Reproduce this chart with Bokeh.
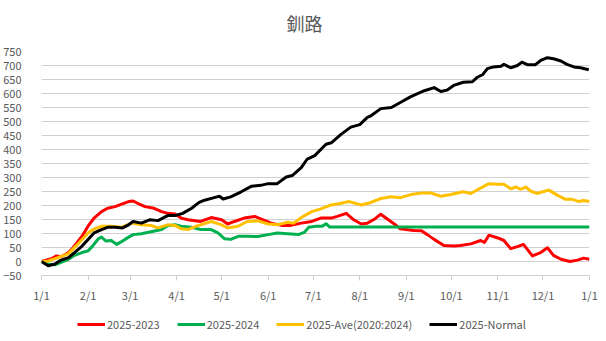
from bokeh.plotting import figure
from bokeh.models import (Range1d, FixedTicker, Legend, LegendItem, Label)
from bokeh.layouts import column
from bokeh.embed import file_html
from bokeh.resources import INLINE
from datetime import date

# ---------------- data (day = days since 1/1) ----------------
title_text = "釧路"
series_names = ["2025-2023", "2025-2024", "2025-Ave(2020:2024)", "2025-Normal"]
series_colors = ["#ff0000", "#00b050", "#ffc000", "#000000"]

red_day = [0, 6.6, 10, 13, 18, 21, 27, 31, 35, 40, 44, 49, 53, 58, 61, 64, 69, 75, 80, 84, 89, 93,
           97.5, 106, 113, 120, 124, 128.5, 135, 142, 146, 153, 160, 166, 173, 180, 186, 193, 197,
           203, 208, 213, 217, 222, 226, 231, 235, 239, 248, 253, 257, 261.5, 268, 275, 279, 286,
           292.5, 295, 298, 304, 308, 312.5, 317, 321, 327, 332.5, 337, 341, 346, 352, 357, 361, 365]
red_val = [0, 10, 20, 17, 32, 49, 90, 126, 155, 178, 190, 196, 204, 214, 216, 208, 196, 190, 178, 172,
           170, 155, 149, 143, 157, 149, 134, 143, 155, 161, 152, 137, 129, 129, 137, 143, 155, 155,
           161, 172, 149, 134, 137, 152, 169, 149, 134, 117, 111, 110, 96, 79, 57, 55, 57, 63, 75, 68,
           94, 84, 75, 46, 53, 61, 20, 32, 49, 22, 8, 0, 5, 12, 8]

green_day = [0, 4.5, 9, 13, 18, 22, 27, 31, 34, 38, 40, 43, 46.5, 50, 53, 58, 61, 66.5, 73, 80, 84,
             89, 93, 100, 106, 113, 117.5, 122, 126, 131, 137, 144, 151, 157, 164, 171, 175, 178,
             183, 187, 189.5, 192, 365]
green_val = [0, -9, -12, -3, 8, 22, 32, 38, 55, 82, 87, 73, 75, 61, 70, 87, 96, 99, 106, 114, 128,
             131, 126, 122, 114, 114, 102, 81, 79, 90, 90, 89, 96, 102, 99, 96, 104, 122, 126, 126,
             135, 123, 123]

yellow_day = [0, 4.5, 11, 18, 24, 31, 35, 40, 46.5, 53, 60, 66.5, 73, 77.6, 84, 89, 93, 97.5, 104,
              106, 113, 120, 124, 131, 137, 144, 151, 157, 164, 168, 173, 180, 186, 193, 199.5, 205,
              213, 219, 226, 233, 239, 246, 253, 259, 266, 272.6, 281, 286, 291, 298, 304, 308,
              312.5, 316, 319, 322.5, 326, 330, 335, 338, 343.5, 349, 353.5, 358, 361, 365]
yellow_val = [0, 2, 14, 28, 61, 102, 116, 126, 126, 122, 137, 131, 129, 120, 131, 129, 117, 114, 128,
              131, 143, 131, 120, 126, 143, 145, 134, 131, 140, 137, 157, 178, 188, 202, 208, 214,
              202, 210, 225, 231, 228, 239, 245, 245, 233, 239, 249, 243, 258, 278, 276, 276, 260,
              266, 258, 266, 251, 243, 251, 255, 237, 222, 222, 214, 218, 214]

black_day = [0, 4.5, 9, 13, 18, 22, 27, 31, 35, 40, 44, 49, 54, 58, 61, 66.5, 72, 77.6, 84, 89, 94,
             100, 105, 108.6, 115, 118.5, 121, 126, 133, 140, 146, 151, 157, 163, 167, 173, 177,
             182, 189.5, 193, 199.5, 206, 212, 217, 219, 226, 233, 239, 246, 255, 261.5, 266, 270,
             275, 281, 287, 290, 294, 297, 301, 306, 308, 312.5, 317, 320, 323.6, 329, 332.5, 337,
             341, 346, 350, 354.6, 359, 364.5]
black_val = [0, -15, -9, 5, 14, 32, 55, 79, 102, 114, 122, 122, 120, 131, 143, 137, 149, 146, 164,
             164, 172, 190, 211, 219, 228, 233, 223, 231, 249, 269, 272, 278, 278, 302, 307, 335,
             366, 378, 419, 424, 454, 480, 489, 515, 519, 546, 550, 568, 589, 610, 621, 607, 612,
             630, 640, 642, 657, 668, 689, 695, 697, 704, 692, 700, 712, 703, 703, 718, 728, 724,
             716, 704, 695, 692, 685]

y_ticks = list(range(-50, 751, 50))
month_labels = ["1/1", "2/1", "3/1", "4/1", "5/1", "6/1", "7/1", "8/1", "9/1", "10/1", "11/1", "12/1", "1/1"]

# ---------------- figure ----------------
start = date(2025, 1, 1)
month_days = [(date(2025, m, 1) - start).days for m in range(1, 13)] + [(date(2026, 1, 1) - start).days]

FONT = "Noto Sans CJK JP"
GRID = "#d0d0d0"
TXT = "#595959"
W = 606
FRAME_LEFT = 40

# title strip (its frame is aligned with the main plot's frame by the column layout)
tt = figure(width=W, height=40, output_backend="svg", toolbar_location=None,
            x_range=Range1d(0, 1), y_range=Range1d(0, 1), min_border=0)
tt.axis.visible = False
tt.grid.visible = False
tt.outline_line_color = None
tt.border_fill_color = "white"
tt.add_layout(Label(x=W / 2 - FRAME_LEFT, y=18, x_units="screen", y_units="screen", text=title_text,
                    text_align="center", text_baseline="middle", text_font=FONT,
                    text_font_size="18px", text_color=TXT))

# main plot
p = figure(width=W, height=265, output_backend="svg", toolbar_location=None,
           x_range=Range1d(0, 365), y_range=Range1d(-50, 750),
           min_border_left=FRAME_LEFT, min_border_right=17, min_border_top=11, min_border_bottom=26)
p.outline_line_color = None
p.background_fill_color = "white"
p.border_fill_color = "white"

p.xgrid.grid_line_color = None
p.ygrid.grid_line_color = GRID
p.ygrid.grid_line_width = 1
p.ygrid.grid_line_alpha = 1.0

yt = FixedTicker(ticks=y_ticks)
p.yaxis.ticker = yt
p.ygrid.ticker = yt
p.yaxis.axis_line_color = None
p.yaxis.major_tick_line_color = None
p.yaxis.minor_tick_line_color = None
p.yaxis.major_label_standoff = 14
p.yaxis.major_label_text_font = FONT
p.yaxis.major_label_text_font_size = "11px"
p.yaxis.major_label_text_color = TXT

p.xaxis.ticker = FixedTicker(ticks=month_days)
p.xaxis.major_label_overrides = {d: lab for d, lab in zip(month_days, month_labels)}
p.xaxis.axis_line_color = GRID
p.xaxis.major_tick_line_color = GRID
p.xaxis.major_tick_out = 5
p.xaxis.major_tick_in = 0
p.xaxis.minor_tick_line_color = None
p.xaxis.major_label_standoff = 6
p.xaxis.major_label_text_font = FONT
p.xaxis.major_label_text_font_size = "11px"
p.xaxis.major_label_text_color = TXT

series = [(red_day, red_val), (green_day, green_val), (yellow_day, yellow_val), (black_day, black_val)]
for (xs, ys), col in zip(series, series_colors):
    p.line(xs, ys, line_color=col, line_width=3, line_join="round")

# legend strip (its lines carry the same data, kept outside the strip's view)
lg = figure(width=W, height=36, output_backend="svg", toolbar_location=None,
            x_range=Range1d(1000, 1001), y_range=Range1d(1000, 1001), min_border=0)
lg.axis.visible = False
lg.grid.visible = False
lg.outline_line_color = None
lg.border_fill_color = "white"
lg_renderers = [lg.line(xs, ys, line_color=col, line_width=3)
                for (xs, ys), col in zip(series, series_colors)]
legend = Legend(items=[LegendItem(label=n, renderers=[r]) for n, r in zip(series_names, lg_renderers)],
                orientation="horizontal", location=(36, 9),
                label_text_font=FONT, label_text_font_size="11px", label_text_color=TXT,
                glyph_width=28, glyph_height=12, label_standoff=2, spacing=17,
                padding=4, margin=0, border_line_color=None, background_fill_alpha=0)
lg.add_layout(legend)

layout = column(tt, p, lg, spacing=0)
open("out.html", "w").write(file_html(layout, INLINE))
